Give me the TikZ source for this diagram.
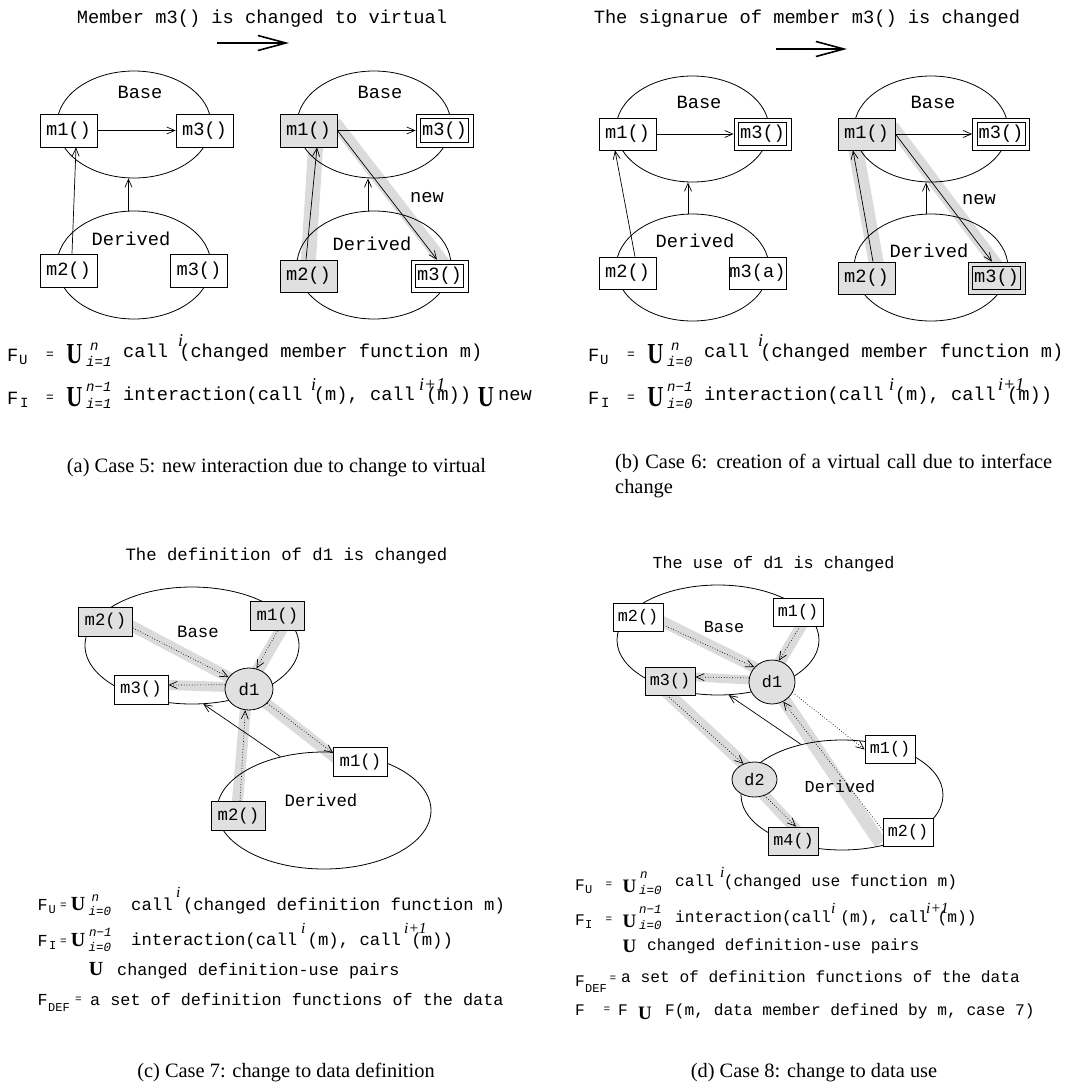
\documentclass[tikz,border=0pt]{standalone}
\usepackage{fontspec}
\setmainfont{Liberation Serif}
\setmonofont{Liberation Mono}
\usepackage{graphicx}
\usetikzlibrary{arrows.meta,shapes.geometric,calc}
\pgfdeclarelayer{bg}
\pgfsetlayers{bg,main}
\definecolor{boxgray}{gray}{0.88}
\definecolor{bandgray}{gray}{0.86}
\newcommand{\BigUA}{\scalebox{0.77}[1]{\fontsize{29}{29}\selectfont\rmfamily\bfseries U}}
\newcommand{\BigUC}{{\fontsize{20}{20}\selectfont\rmfamily\bfseries U}}
\newcommand{\BigUD}{{\fontsize{19}{19}\selectfont\rmfamily\bfseries U}}
\tikzset{
 fa/.style={font=\ttfamily\fontsize{18.7}{21}\selectfont},
 fc/.style={font=\ttfamily\fontsize{17.3}{19}\selectfont},
 fcf/.style={font=\ttfamily\fontsize{16.8}{19}\selectfont},
 fd/.style={font=\ttfamily\fontsize{16.2}{18}\selectfont},
 ftd/.style={font=\ttfamily\fontsize{16.8}{18}\selectfont},
 eqA/.style={font=\ttfamily\fontsize{13}{14}\selectfont},
 eqC/.style={font=\ttfamily\fontsize{11}{12}\selectfont},
 subA/.style={font=\ttfamily\fontsize{14}{15}\selectfont},
 subC/.style={font=\ttfamily\fontsize{12}{13}\selectfont},
 limA/.style={font=\ttfamily\itshape\fontsize{14}{15}\selectfont},
 limC/.style={font=\ttfamily\itshape\fontsize{12.5}{13}\selectfont},
 supA/.style={font=\rmfamily\itshape\fontsize{18}{19}\selectfont},
 supC/.style={font=\rmfamily\itshape\fontsize{15.5}{17}\selectfont},
 capt/.style={font=\rmfamily\fontsize{20.4}{25}\selectfont},
 txt/.style={inner sep=0pt, anchor=base},
 txtw/.style={inner sep=0pt, anchor=base west},
 membox/.style={draw, line width=0.8pt, fill=white, inner sep=0pt},
 gfill/.style={fill=boxgray},
 boxA/.style={membox, fa, minimum width=57pt, minimum height=33pt},
 boxC/.style={membox, fc, minimum width=54pt, minimum height=29pt},
 boxD/.style={membox, ftd, minimum width=50pt, minimum height=28pt},
 inner/.style={line width=0.8pt},
 ell/.style={draw, ellipse, line width=0.8pt, inner sep=0pt},
 dat/.style={ell, fill=boxgray},
 arr/.style={line width=0.7pt, -{Straight Barb[length=8pt,width=7pt]}},
 darr/.style={arr, dotted},
 band/.style={draw=bandgray, line width=#1, shorten <=-10pt, shorten >=-10pt},
 band/.default=15pt,
 bigarr/.style={line width=1.6pt, -{Straight Barb[length=28pt,width=15pt]}},
}
\begin{document}
\begin{tikzpicture}[x=1pt,y=-1pt]
\useasboundingbox (0,0) rectangle (1077,1088);

%================ Panel (a) ================
\node[fa,txt] (titA) at (262,23) {Member m3() is changed to virtual};
\coordinate (taS) at (217,43);
\coordinate (taE) at (289,43);
\draw[bigarr] (taS) -- (taE);

% left
\node[ell, minimum width=154pt, minimum height=107pt] (aBaseL) at (134,124.5) {};
\node[ell, minimum width=154pt, minimum height=108pt] (aDerL) at (134,265) {};
\node[fa,txt] (aBaseLT) at (140,98) {Base};
\node[fa,txt] (aDerLT) at (131,245) {Derived};
\node[boxA] (aM1L) at (68.5,130.5) {m1()};
\node[boxA] (aM3L) at (204.5,130.5) {m3()};
\node[boxA] (aM2L) at (68.5,270.5) {m2()};
\node[boxA] (aM3dL) at (199,270.5) {m3()};
\draw[arr] (aM1L) -- (aM3L);
\draw[arr] ($(aDerL.north)+(-5.5,0)$) -- ($(aBaseL.south)+(-5.5,0)$);
\draw[arr] ($(aM2L.north)+(3.5,0)$) -- ($(aM1L.south)+(7.5,0)$);

% right
\node[ell, minimum width=154pt, minimum height=107pt] (aBaseR) at (374,124.5) {};
\node[ell, minimum width=154pt, minimum height=108pt] (aDerR) at (374,265) {};
\node[fa,txt] (aBaseRT) at (380,98) {Base};
\node[fa,txt] (aDerRT) at (372,250) {Derived};
\node[fa,txt] (aNew) at (427,202) {new};
\node[boxA,gfill] (aM1R) at (308.5,130.5) {m1()};
\node[boxA] (aM3R) at (444.5,130.5) {m3()};
\draw[inner] ($(aM3R.south west)+(5,-5)$) rectangle ($(aM3R.north east)+(-5,5)$);
\node[boxA,gfill,minimum height=32pt] (aM2R) at (308.5,276) {m2()};
\node[boxA,minimum height=32pt] (aM3dR) at (439.5,276) {m3()};
\draw[inner] ($(aM3dR.south west)+(5,-5)$) rectangle ($(aM3dR.north east)+(-5,5)$);
\begin{pgfonlayer}{bg}
\draw[band] (aM2R.north) -- ($(aM1R.south)+(7,0)$);
\draw[band=12pt] ($(aM1R.east)+(4,0)$) -- ($(aM3dR.north)+(2,0)$);
\end{pgfonlayer}
\draw[arr] (aM1R) -- (aM3R);
\draw[arr] ($(aDerR.north)+(-6,0)$) -- ($(aBaseR.south)+(-6,0)$);
\draw[arr] ($(aM2R.north)+(-2.5,0)$) -- ($(aM1R.south)+(8.5,0)$);
\draw[arr] (aM1R.east) -- ($(aM3dR.north)+(-2.5,0)$);

% formulas (a)
\node[fa,txtw] (aFu) at (7,361) {F};
\node[subA,txtw] (aFuS) at (19,364) {U};
\node[eqA,txt] (aFuEq) at (50,358) {=};
\node[txt] (aFuU) at (74.5,363) {\BigUA};
\node[limA,txtw] (aFuSup) at (90,350) {n};
\node[limA,txtw] (aFuSub) at (86,366) {i=1};
\node[fa,txtw] (aFuT) at (123,357) {call (changed member function m)};
\node[supA,txtw] (aFuI) at (178,346) {i};

\node[fa,txtw] (aFi) at (7,404) {F};
\node[subA,txtw] (aFiS) at (20,407) {I};
\node[eqA,txt] (aFiEq) at (50,401) {=};
\node[txt] (aFiU) at (74.5,406) {\BigUA};
\node[limA,txtw] (aFiSup) at (86,391) {n−1};
\node[limA,txtw] (aFiSub) at (86,408) {i=1};
\node[fa,txtw] (aFiT) at (123,400) {interaction(call (m), call (m))};
\node[supA,txtw] (aFiI) at (311,390) {i};
\node[supA,txtw] (aFiI2) at (419,390) {i+1};
\node[txt] (aFiU2) at (486,406) {\BigUA};
\node[fa,txtw] (aFiN) at (498,400) {new};

\node[capt,txt] (capA) at (276.5,472) {(a) Case 5: new interaction due to change to virtual};

%================ Panel (b) ================
\node[fa,txt] (titB) at (807,23) {The signarue of member m3() is changed};
\coordinate (tbS) at (776,49);
\coordinate (tbE) at (847,49);
\draw[bigarr] (tbS) -- (tbE);

% left
\node[ell, minimum width=153pt, minimum height=106pt] (bBaseL) at (692.5,129) {};
\node[ell, minimum width=153pt, minimum height=107pt] (bDerL) at (692.5,267.5) {};
\node[fa,txt] (bBaseLT) at (699,108) {Base};
\node[fa,txt] (bDerLT) at (695,247) {Derived};
\node[boxA,minimum height=32pt] (bM1L) at (627.5,134) {m1()};
\node[boxA,minimum height=32pt] (bM3L) at (762.5,134) {m3()};
\draw[inner] ($(bM3L.south west)+(5,-5)$) rectangle ($(bM3L.north east)+(-5,5)$);
\node[boxA,minimum height=32pt] (bM2L) at (627.5,273) {m2()};
\node[boxA,minimum height=32pt] (bM3aL) at (757.5,273) {m3(a)};
\draw[arr] (bM1L) -- (bM3L);
\draw[arr] ($(bDerL.north)+(-4.5,0)$) -- ($(bBaseL.south)+(-4.5,0)$);
\draw[arr] ($(bM2L.north)+(7.5,0)$) -- ($(bM1L.south)+(-12.5,0)$);

% right
\node[ell, minimum width=154pt, minimum height=106pt] (bBaseR) at (931,129) {};
\node[ell, minimum width=154pt, minimum height=107pt] (bDerR) at (931,267.5) {};
\node[fa,txt] (bBaseRT) at (933,108) {Base};
\node[fa,txt] (bDerRT) at (929,257) {Derived};
\node[fa,txt] (bNew) at (979,204) {new};
\node[boxA,gfill,minimum height=32pt] (bM1R) at (866.5,134) {m1()};
\node[boxA,minimum height=32pt] (bM3R) at (1001,134) {m3()};
\draw[inner] ($(bM3R.south west)+(5,-5)$) rectangle ($(bM3R.north east)+(-5,5)$);
\node[boxA,gfill,minimum height=32pt] (bM2R) at (866.5,278) {m2()};
\node[boxA,gfill,minimum height=32pt] (bM3dR) at (996.5,278) {m3()};
\draw[inner] ($(bM3dR.south west)+(5,-5)$) rectangle ($(bM3dR.north east)+(-5,5)$);
\begin{pgfonlayer}{bg}
\draw[band] ($(bM2R.north)+(9.5,0)$) -- ($(bM1R.south)+(-10.5,0)$);
\draw[band=12pt] ($(bM1R.east)+(3,0)$) -- ($(bM3dR.north)+(-2,0)$);
\end{pgfonlayer}
\draw[arr] (bM1R) -- (bM3R);
\draw[arr] ($(bDerR.north)+(-5,0)$) -- ($(bBaseR.south)+(-5,0)$);
\draw[arr] ($(bM2R.north)+(6.5,0)$) -- ($(bM1R.south)+(-13.5,0)$);
\draw[arr] (bM1R.east) -- ($(bM3dR.north)+(-4.5,0)$);

% formulas (b)
\node[fa,txtw] (bFu) at (588,361) {F};
\node[subA,txtw] (bFuS) at (600,364) {U};
\node[eqA,txt] (bFuEq) at (631,358) {=};
\node[txt] (bFuU) at (655.5,363) {\BigUA};
\node[limA,txtw] (bFuSup) at (671,350) {n};
\node[limA,txtw] (bFuSub) at (667,366) {i=0};
\node[fa,txtw] (bFuT) at (704,357) {call (changed member function m)};
\node[supA,txtw] (bFuI) at (758,346) {i};

\node[fa,txtw] (bFi) at (588,404) {F};
\node[subA,txtw] (bFiS) at (601,407) {I};
\node[eqA,txt] (bFiEq) at (631,401) {=};
\node[txt] (bFiU) at (655.5,406) {\BigUA};
\node[limA,txtw] (bFiSup) at (667,391) {n−1};
\node[limA,txtw] (bFiSub) at (667,408) {i=0};
\node[fa,txtw] (bFiT) at (704,400) {interaction(call (m), call (m))};
\node[supA,txtw] (bFiI) at (889,390) {i};
\node[supA,txtw] (bFiI2) at (998,390) {i+1};

\node[capt,txtw] (capB1) at (615,468) {\makebox[437pt][s]{(b) Case 6: creation of a virtual call due to interface}};
\node[capt,txtw] (capB2) at (615,493) {change};

%================ Panel (c) ================
\node[fc,txt] (titC) at (286.5,560) {The definition of d1 is changed};
\node[ell, minimum width=214pt, minimum height=117pt] (cBase) at (192,645.5) {};
\node[ell, minimum width=214pt, minimum height=117pt] (cDer) at (324,810.5) {};
\node[fc,txt] (cBaseT) at (198,637) {Base};
\node[fc,txt] (cDerT) at (321,806) {Derived};
\node[boxC,gfill] (cM2) at (105.5,621.5) {m2()};
\node[boxC,gfill] (cM1) at (277.5,616) {m1()};
\node[boxC] (cM3) at (141,689.5) {m3()};
\node[dat,fc,minimum width=48pt,minimum height=42pt] (cD1) at (249,689) {d1};
\node[boxC] (cM1d) at (360.5,762) {m1()};
\node[boxC,gfill] (cM2d) at (238.5,816) {m2()};
\begin{pgfonlayer}{bg}
\draw[band=11pt] ($(cM2.east)+(0,5)$) -- (cD1.150);
\draw[band=12pt] ($(cM1.south)+(3,0)$) -- (cD1.65);
\draw[band=10pt] (cD1.175) -- ($(cM3.east)+(0,-4.5)$);
\draw[band=11pt] (cD1.-40) -- ($(cM1d.west)+(0,-6)$);
\draw[band=11pt] ($(cM2d.north)+(-1,0)$) -- (cD1.-100);
\end{pgfonlayer}
\draw[darr] ($(cM2.east)+(0,6.5)$) -- (cD1.150);
\draw[darr] (cM1.south) -- (cD1.70);
\draw[darr] (cD1.170) -- ($(cM3.east)+(0,-4.5)$);
\draw[darr] (cD1.-38) -- ($(cM1d.west)+(0,-9)$);
\draw[darr] ($(cM2d.north)+(1.5,0)$) -- (cD1.-100);
\draw[arr] (cDer.129) -- (cBase.-79);

% formulas (c)
\node[fcf,txtw] (cFu) at (37.5,910) {F};
\node[subC,txtw] (cFuS) at (48.5,913.5) {U};
\node[eqC,txt] (cFuEq) at (63.5,908.5) {=};
\node[txt] (cFuU) at (78,910.5) {\BigUC};
\node[limC,txtw] (cFuSup) at (91.5,901) {n};
\node[limC,txtw] (cFuSub) at (88.5,915) {i=0};
\node[fc,txtw] (cFuT) at (131,910) {call (changed definition function m)};
\node[supC,txtw] (cFuI) at (176,897) {i};

\node[fcf,txtw] (cFi) at (37.5,946) {F};
\node[subC,txtw] (cFiS) at (49,949.5) {I};
\node[eqC,txt] (cFiEq) at (63.5,944.5) {=};
\node[txt] (cFiU) at (78,946.5) {\BigUC};
\node[limC,txtw] (cFiSup) at (89,936) {n−1};
\node[limC,txtw] (cFiSub) at (88.5,951) {i=0};
\node[fc,txtw] (cFiT) at (131,945.8) {interaction(call (m), call (m))};
\node[supC,txtw] (cFiI) at (301,933) {i};
\node[supC,txtw] (cFiI2) at (404,933) {i+1};

\node[txt] (cUU) at (96,975.5) {\BigUC};
\node[fcf,txtw] (cUT) at (117,975) {changed definition-use pairs};

\node[fcf,txtw] (cFd) at (37.5,1005) {F};
\node[subC,txtw] (cFdS) at (48,1011) {DEF};
\node[eqC,txt] (cFdEq) at (78.5,1002) {=};
\node[fcf,txtw] (cFdT) at (90,1005) {a set of definition functions of the data};

\node[capt,txt] (capC) at (286,1077) {(c) Case 7: change to data definition};

%================ Panel (d) ================
\node[ftd,txt] (titD) at (773.5,568) {The use of d1 is changed};
\node[ell, minimum width=202pt, minimum height=110pt] (dBase) at (718,640) {};
\node[ell, minimum width=202pt, minimum height=110pt] (dDer) at (842,795) {};
\node[ftd,txt] (dBaseT) at (724,632) {Base};
\node[ftd,txt] (dDerT) at (840,792) {Derived};
\node[boxD] (dM2) at (638,617) {m2()};
\node[boxD] (dM1) at (798,612) {m1()};
\node[boxD,gfill] (dM3) at (670,681) {m3()};
\node[dat,ftd,minimum width=46pt,minimum height=44pt] (dD1) at (772,682) {d1};
\node[dat,ftd,minimum width=45pt,minimum height=35pt] (dD2) at (754.5,779.5) {d2};
\node[boxD] (dM1d) at (890,749.5) {m1()};
\node[boxD,gfill] (dM4) at (793.5,841) {m4()};
\node[boxD] (dM2d) at (908,832) {m2()};
\begin{pgfonlayer}{bg}
\draw[band=11pt] ($(dM2.east)+(0,5)$) -- (dD1.140);
\draw[band=11pt] ($(dM1.south)+(3,0)$) -- (dD1.68);
\draw[band=9pt] (dD1.175) -- ($(dM3.east)+(0,-4)$);
\draw[band=12pt] ($(dM3.south)+(0,0)$) -- (dD2.125);
\draw[band=11pt] (dD2.-58) -- ($(dM4.north)+(0,0)$);
\draw[band=13pt, shorten >=0pt] (dD1.center) -- ($(dM2d.south west)+(-2,-3)$);
\end{pgfonlayer}
\draw[darr] ($(dM2.east)+(0,8)$) -- (dD1.140);
\draw[darr] ($(dM1.south)+(2,0)$) -- (dD1.72);
\draw[darr] (dD1.170) -- ($(dM3.east)+(0,-4)$);
\draw[darr] ($(dM3.south)+(-3,0)$) -- (dD2.125);
\draw[darr] (dD2.-58) -- ($(dM4.north)+(2.5,0)$);
\draw[darr] ($(dM2d.west)+(0,-2)$) -- (dD1.-60);
\draw[darr] (dD1.-27) -- (dM1d.west);
\draw[arr] (dDer.129) -- (dBase.-79);

% formulas (d)
\node[fd,txtw] (dFu) at (575,890) {F};
\node[subC,txtw] (dFuS) at (585,893) {U};
\node[eqC,txt] (dFuEq) at (609,887) {=};
\node[txt] (dFuU) at (629.5,892) {\BigUD};
\node[limC,txtw] (dFuSup) at (640,878) {n};
\node[limC,txtw] (dFuSub) at (639,894) {i=0};
\node[fd,txtw] (dFuT) at (675,886) {call (changed use function m)};
\node[supC,txtw] (dFuI) at (720,877) {i};

\node[fd,txtw] (dFi) at (575,925) {F};
\node[subC,txtw] (dFiS) at (585,928) {I};
\node[eqC,txt] (dFiEq) at (609,922) {=};
\node[txt] (dFiU) at (629.5,927) {\BigUD};
\node[limC,txtw] (dFiSup) at (639,913) {n−1};
\node[limC,txtw] (dFiSub) at (639,929) {i=0};
\node[fd,txtw] (dFiT) at (675,922) {interaction(call (m), call (m))};
\node[supC,txtw] (dFiI) at (831,913) {i};
\node[supC,txtw] (dFiI2) at (926,913) {i+1};

\node[txt] (dUU) at (629.5,952) {\BigUD};
\node[fd,txtw] (dUT) at (647,950) {changed definition-use pairs};

\node[fd,txtw] (dFd) at (575,986) {F};
\node[subC,txtw] (dFdS) at (585,992) {DEF};
\node[eqC,txt] (dFdEq) at (613,981) {=};
\node[fd,txtw] (dFdT) at (621,982) {a set of definition functions of the data};

\node[fd,txtw] (dF1) at (575,1015) {F};
\node[eqC,txt] (dFEq) at (607,1012) {=};
\node[fd,txtw] (dF2) at (618,1015) {F};
\node[txt] (dFU) at (645,1019) {\BigUD};
\node[fd,txtw] (dFT) at (665,1015) {F(m, data member defined by m, case 7)};

\node[capt,txt] (capD) at (814,1077) {(d) Case 8: change to data use};
\end{tikzpicture}
\end{document}
